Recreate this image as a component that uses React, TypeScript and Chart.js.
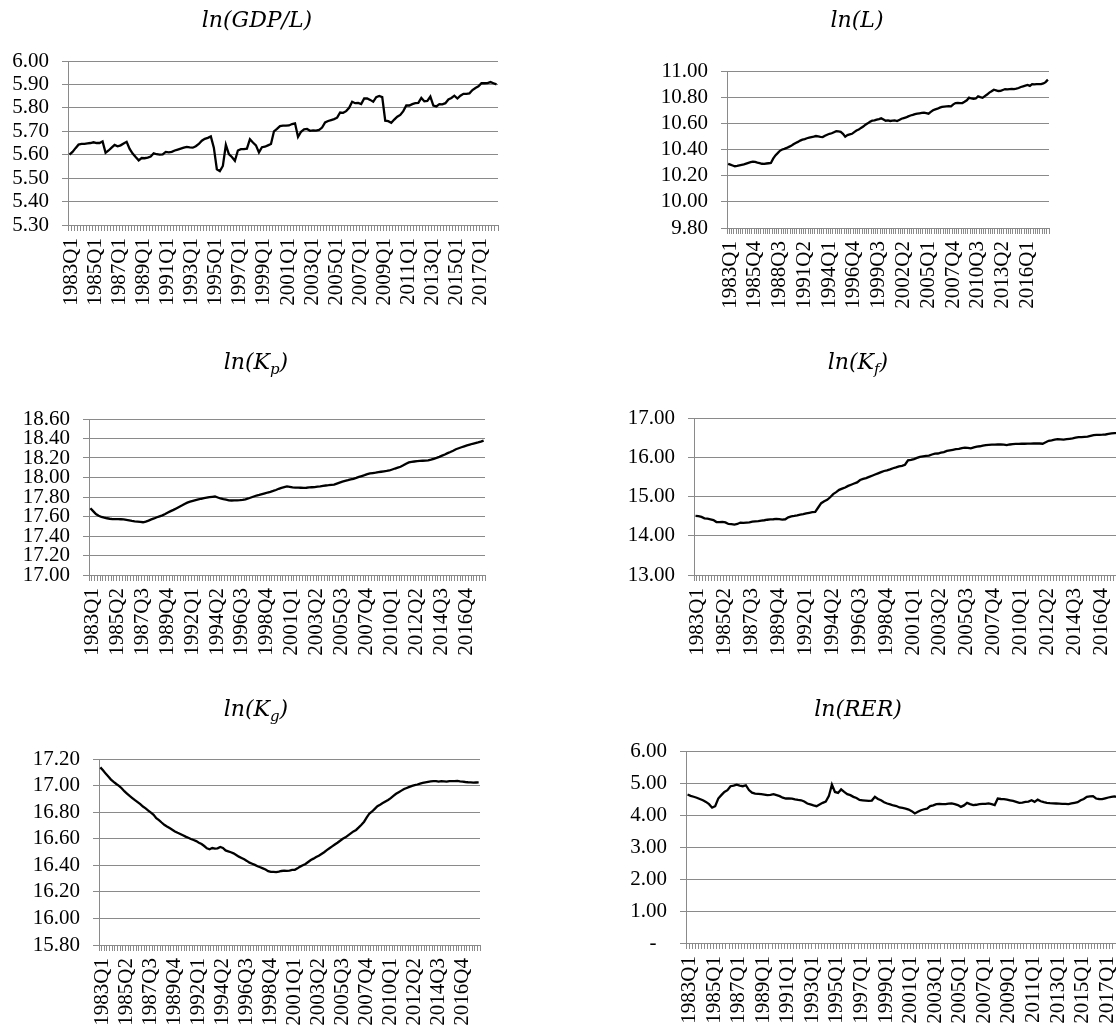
import React, { useEffect, useRef } from 'react';
import { Chart, registerables } from 'chart.js';

Chart.register(...registerables);

// ---------- data: quarterly, 1983Q1 .. 2018Q3 ----------
const FIRST_YEAR = 1983;
const N_QUARTERS = 143;
const quarterLabels: string[] = [];
for (let i = 0; i < N_QUARTERS; i++) {
  quarterLabels.push(`${FIRST_YEAR + Math.floor(i / 4)}Q${(i % 4) + 1}`);
}

const gdpPerWorker = [
  5.600, 5.612, 5.628, 5.643, 5.646, 5.646, 5.648, 5.650, 5.653, 5.650, 5.650,
  5.657, 5.608,
  5.618, 5.630, 5.642, 5.636, 5.640, 5.648, 5.655,
  5.625, 5.605, 5.590, 5.576, 5.586, 5.585, 5.588, 5.592,
  5.606, 5.602, 5.600, 5.601, 5.612, 5.610, 5.612, 5.618,
  5.622, 5.626, 5.630, 5.633, 5.631, 5.630, 5.636, 5.646, 5.660, 5.668, 5.672, 5.678,
  5.630, 5.538, 5.530, 5.552, 5.642, 5.603, 5.590, 5.574,
  5.618, 5.624, 5.624, 5.626, 5.666, 5.652, 5.640, 5.610, 5.632, 5.634, 5.640, 5.646,
  5.700, 5.710, 5.722, 5.724, 5.724, 5.725, 5.731, 5.734,
  5.676, 5.698, 5.708, 5.710, 5.702, 5.704, 5.703, 5.706, 5.716, 5.738,
  5.744, 5.748, 5.752, 5.758, 5.780, 5.779, 5.786, 5.800, 5.826, 5.820, 5.821, 5.816,
  5.840, 5.840, 5.834, 5.826, 5.846, 5.851, 5.846,
  5.745, 5.743, 5.736, 5.750, 5.762, 5.770, 5.786,
  5.810, 5.810, 5.816, 5.820, 5.821, 5.842, 5.828, 5.830, 5.848,
  5.810, 5.806, 5.816, 5.815, 5.820, 5.836, 5.842, 5.852, 5.840, 5.852, 5.860,
  5.860, 5.862, 5.876, 5.885, 5.892, 5.905, 5.905, 5.906, 5.910, 5.905, 5.900,
];

const labourForce = [
  10.290, 10.284, 10.278, 10.272, 10.274, 10.278, 10.282, 10.286, 10.292, 10.298, 10.303,
  10.307, 10.305, 10.300, 10.296, 10.291, 10.290, 10.293, 10.295, 10.297, 10.330,
  10.355, 10.372, 10.390, 10.400, 10.405, 10.412, 10.420, 10.428, 10.440, 10.450,
  10.458, 10.468, 10.475, 10.480, 10.486, 10.490, 10.494, 10.498, 10.503, 10.500,
  10.497, 10.495, 10.505, 10.513, 10.520, 10.524, 10.532, 10.540, 10.538, 10.535,
  10.520, 10.498, 10.510, 10.515, 10.520, 10.533, 10.545, 10.552, 10.565, 10.575,
  10.590, 10.600, 10.612, 10.620, 10.622, 10.628, 10.632, 10.638, 10.630, 10.620,
  10.622, 10.618, 10.620, 10.622, 10.617, 10.626, 10.635, 10.640, 10.645, 10.653,
  10.660, 10.664, 10.670, 10.674, 10.677, 10.680, 10.682, 10.678, 10.674, 10.688,
  10.700, 10.707, 10.712, 10.720, 10.725, 10.728, 10.730, 10.731, 10.730, 10.745,
  10.755, 10.756, 10.754, 10.755, 10.765, 10.776, 10.796, 10.790, 10.788, 10.790,
  10.806, 10.800, 10.795, 10.808, 10.820, 10.835, 10.845, 10.857, 10.852, 10.847,
  10.848, 10.855, 10.862, 10.860, 10.862, 10.864, 10.862, 10.865, 10.870, 10.878,
  10.883, 10.888, 10.893, 10.886, 10.900, 10.898, 10.900, 10.900, 10.900, 10.905, 10.915, 10.934,
];

const privateCapital = [
  17.685, 17.655, 17.625, 17.608, 17.595, 17.588, 17.582, 17.577, 17.574, 17.573,
  17.573, 17.572, 17.570, 17.565, 17.560, 17.555, 17.551, 17.548, 17.545, 17.541,
  17.548, 17.558, 17.570, 17.580, 17.592, 17.602, 17.612, 17.625, 17.640, 17.655,
  17.668, 17.683, 17.698, 17.712, 17.728, 17.742, 17.752, 17.760, 17.768, 17.775,
  17.782, 17.788, 17.793, 17.798, 17.802, 17.805, 17.795, 17.785, 17.778, 17.772,
  17.766, 17.764, 17.765, 17.766, 17.767, 17.770, 17.776, 17.785, 17.795, 17.805,
  17.815, 17.822, 17.830, 17.838, 17.846, 17.853, 17.862, 17.872, 17.884, 17.894,
  17.902, 17.908, 17.904, 17.898, 17.897, 17.896, 17.895, 17.894, 17.895, 17.898,
  17.900, 17.902, 17.906, 17.910, 17.915, 17.918, 17.921, 17.925, 17.928, 17.938,
  17.948, 17.958, 17.965, 17.972, 17.980, 17.987, 17.996, 18.006, 18.015, 18.024,
  18.034, 18.042, 18.046, 18.050, 18.055, 18.059, 18.063, 18.067, 18.072, 18.082,
  18.092, 18.101, 18.110, 18.125, 18.142, 18.155, 18.160, 18.164, 18.168, 18.170,
  18.172, 18.173, 18.175, 18.183, 18.192, 18.201, 18.212, 18.224, 18.236, 18.250,
  18.262, 18.275, 18.290, 18.300, 18.310, 18.320, 18.330, 18.338, 18.346, 18.353, 18.360, 18.368, 18.378,
];

const foreignCapital = [
  14.506, 14.500, 14.480, 14.445, 14.435, 14.420, 14.400, 14.350, 14.345, 14.355,
  14.340, 14.300, 14.295, 14.285, 14.300, 14.336, 14.330, 14.335, 14.340, 14.358,
  14.365, 14.372, 14.385, 14.395, 14.408, 14.415, 14.420, 14.428, 14.425, 14.413,
  14.420, 14.470, 14.495, 14.505, 14.520, 14.540, 14.550, 14.570, 14.585, 14.600,
  14.610, 14.720, 14.830, 14.880, 14.915, 14.980, 15.060, 15.110, 15.170, 15.200,
  15.230, 15.270, 15.300, 15.330, 15.360, 15.420, 15.450, 15.470, 15.500, 15.530,
  15.560, 15.590, 15.620, 15.650, 15.665, 15.690, 15.720, 15.740, 15.766, 15.780,
  15.809, 15.920, 15.935, 15.953, 15.985, 16.010, 16.025, 16.035, 16.040, 16.070,
  16.090, 16.095, 16.115, 16.130, 16.160, 16.175, 16.190, 16.205, 16.215, 16.235,
  16.243, 16.240, 16.226, 16.250, 16.270, 16.280, 16.295, 16.310, 16.315, 16.320,
  16.322, 16.325, 16.328, 16.320, 16.310, 16.325, 16.336, 16.340, 16.342, 16.345,
  16.344, 16.345, 16.346, 16.350, 16.353, 16.350, 16.345, 16.380, 16.420, 16.430,
  16.450, 16.464, 16.458, 16.447, 16.460, 16.470, 16.480, 16.500, 16.515, 16.515,
  16.520, 16.523, 16.545, 16.566, 16.568, 16.570, 16.574, 16.580, 16.595, 16.610, 16.615, 16.620, 16.630,
];

const publicCapital = [
  17.137, 17.115, 17.090, 17.068, 17.045, 17.028, 17.012, 16.998, 16.980, 16.958,
  16.940, 16.922, 16.906, 16.890, 16.875, 16.860, 16.842, 16.828, 16.812, 16.796,
  16.780, 16.755, 16.740, 16.722, 16.705, 16.692, 16.680, 16.668, 16.655, 16.645,
  16.636, 16.626, 16.616, 16.607, 16.598, 16.590, 16.582, 16.570, 16.560, 16.545,
  16.528, 16.520, 16.530, 16.525, 16.528, 16.538, 16.530, 16.512, 16.505, 16.498,
  16.490, 16.478, 16.465, 16.455, 16.445, 16.433, 16.420, 16.412, 16.403, 16.393,
  16.385, 16.377, 16.368, 16.356, 16.350, 16.350, 16.348, 16.352, 16.357, 16.360,
  16.358, 16.360, 16.365, 16.366, 16.377, 16.390, 16.400, 16.410, 16.425, 16.440,
  16.450, 16.462, 16.472, 16.485, 16.498, 16.514, 16.528, 16.542, 16.556, 16.570,
  16.585, 16.600, 16.610, 16.625, 16.640, 16.655, 16.666, 16.685, 16.705, 16.728,
  16.760, 16.790, 16.805, 16.825, 16.845, 16.856, 16.868, 16.880, 16.892, 16.905,
  16.922, 16.938, 16.950, 16.962, 16.974, 16.982, 16.990, 16.998, 17.003, 17.008,
  17.015, 17.020, 17.024, 17.028, 17.032, 17.034, 17.034, 17.030, 17.033, 17.032,
  17.030, 17.034, 17.033, 17.034, 17.036, 17.032, 17.030, 17.027, 17.025, 17.024, 17.022, 17.023, 17.024,
];

const realExchangeRate = [
  4.640, 4.600, 4.570, 4.540, 4.500, 4.460, 4.410, 4.340, 4.230, 4.276,
  4.515, 4.620, 4.720, 4.775, 4.900, 4.920, 4.950, 4.920, 4.900, 4.930,
  4.780, 4.700, 4.670, 4.660, 4.650, 4.640, 4.620, 4.630, 4.650, 4.620,
  4.590, 4.540, 4.515, 4.520, 4.515, 4.490, 4.470, 4.460, 4.420, 4.360,
  4.330, 4.300, 4.276, 4.330, 4.380, 4.420, 4.588, 4.950, 4.720, 4.690,
  4.800, 4.720, 4.650, 4.620, 4.567, 4.530, 4.470, 4.460, 4.450, 4.440,
  4.450, 4.567, 4.500, 4.460, 4.400, 4.360, 4.330, 4.297, 4.280, 4.235,
  4.220, 4.200, 4.170, 4.120, 4.050, 4.100, 4.150, 4.180, 4.200, 4.276,
  4.300, 4.340, 4.345, 4.340, 4.340, 4.355, 4.360, 4.340, 4.310, 4.255,
  4.300, 4.380, 4.340, 4.310, 4.320, 4.340, 4.345, 4.350, 4.360, 4.340,
  4.310, 4.515, 4.500, 4.494, 4.480, 4.460, 4.440, 4.410, 4.380, 4.390,
  4.410, 4.420, 4.460, 4.410, 4.480, 4.430, 4.400, 4.380, 4.370, 4.365,
  4.360, 4.355, 4.350, 4.345, 4.340, 4.360, 4.380, 4.400, 4.460, 4.500,
  4.567, 4.580, 4.588, 4.515, 4.500, 4.494, 4.520, 4.547, 4.567, 4.580, 4.560, 4.550, 4.570,
];

// ---------- panel layout ----------
type TitlePart = { text: string; sub?: boolean };
type Panel = {
  key: string;
  title: TitlePart[];
  data: number[];
  yMin: number;
  yMax: number;
  yStep: number;
  labelEvery: number;
  zeroLabel?: string;
  box: { x: number; y: number; w: number; h: number };
  plot: { l: number; t: number; r: number; b: number };
  titleAt: { x: number; y: number };
};

const panels: Panel[] = [
  {
    key: 'gdp', title: [{ text: 'ln(GDP/L)' }], data: gdpPerWorker,
    yMin: 5.3, yMax: 6.0, yStep: 0.1, labelEvery: 8,
    box: { x: 0, y: 0, w: 556, h: 330 }, plot: { l: 68, t: 61, r: 498, b: 225 },
    titleAt: { x: 257, y: 27 },
  },
  {
    key: 'lab', title: [{ text: 'ln(L)' }], data: labourForce,
    yMin: 9.8, yMax: 11.0, yStep: 0.2, labelEvery: 11,
    box: { x: 556, y: 0, w: 600, h: 330 }, plot: { l: 727, t: 71, r: 1049, b: 228 },
    titleAt: { x: 857, y: 27 },
  },
  {
    key: 'kp', title: [{ text: 'ln(K' }, { text: 'p', sub: true }, { text: ')' }], data: privateCapital,
    yMin: 17.0, yMax: 18.6, yStep: 0.2, labelEvery: 9,
    box: { x: 0, y: 330, w: 556, h: 350 }, plot: { l: 89, t: 419, r: 485, b: 575 },
    titleAt: { x: 256, y: 369 },
  },
  {
    key: 'kf', title: [{ text: 'ln(K' }, { text: 'f', sub: true }, { text: ')' }], data: foreignCapital,
    yMin: 13.0, yMax: 17.0, yStep: 1.0, labelEvery: 9,
    box: { x: 556, y: 330, w: 600, h: 350 }, plot: { l: 694, t: 418, r: 1122, b: 575 },
    titleAt: { x: 858, y: 369 },
  },
  {
    key: 'kg', title: [{ text: 'ln(K' }, { text: 'g', sub: true }, { text: ')' }], data: publicCapital,
    yMin: 15.8, yMax: 17.2, yStep: 0.2, labelEvery: 9,
    box: { x: 0, y: 680, w: 556, h: 347 }, plot: { l: 99, t: 759, r: 480, b: 945 },
    titleAt: { x: 256, y: 716 },
  },
  {
    key: 'rer', title: [{ text: 'ln(RER)' }], data: realExchangeRate,
    yMin: 0, yMax: 6.0, yStep: 1.0, labelEvery: 8, zeroLabel: '-  ',
    box: { x: 556, y: 680, w: 600, h: 347 }, plot: { l: 686, t: 751, r: 1126, b: 943 },
    titleAt: { x: 858, y: 716 },
  },
];

const GRID = '#8a8a8a';
const LABEL_FONT = '"Liberation Serif", "Times New Roman", serif';
const TITLE_FONT = '"DejaVu Serif", serif';

function makeTitlePlugin(p: Panel) {
  return {
    id: 'panelTitle_' + p.key,
    afterDraw(chart: any) {
      const ctx = chart.ctx as CanvasRenderingContext2D;
      ctx.save();
      ctx.fillStyle = '#000';
      ctx.textBaseline = 'alphabetic';
      ctx.textAlign = 'left';
      const fontFor = (part: TitlePart) => part.sub ? `italic 15px ${TITLE_FONT}` : `italic 22px ${TITLE_FONT}`;
      let total = 0;
      p.title.forEach((part) => { ctx.font = fontFor(part); total += ctx.measureText(part.text).width; });
      let x = p.titleAt.x - p.box.x - total / 2;
      const y = p.titleAt.y - p.box.y;
      p.title.forEach((part) => {
        ctx.font = fontFor(part);
        ctx.fillText(part.text, x, y + (part.sub ? 5 : 0));
        x += ctx.measureText(part.text).width;
      });
      ctx.restore();
    },
  };
}

function PanelChart({ p }: { p: Panel }) {
  const ref = useRef<HTMLCanvasElement | null>(null);
  useEffect(() => {
    if (!ref.current) return;
    const chart = new Chart(ref.current, {
      type: 'line',
      data: {
        labels: quarterLabels,
        datasets: [{
          data: p.data,
          borderColor: '#000000',
          borderWidth: 2.3,
          pointRadius: 0,
          tension: 0,
          fill: false,
        }],
      },
      options: {
        animation: false,
        responsive: false,
        events: [],
        layout: {
          padding: {
            top: p.plot.t - p.box.y,
            right: p.box.x + p.box.w - p.plot.r,
            left: 0,
            bottom: 0,
          },
        },
        plugins: { legend: { display: false }, tooltip: { enabled: false }, title: { display: false } },
        scales: {
          x: {
            type: 'category',
            offset: true,
            afterFit: (s: any) => { s.height = p.box.y + p.box.h - p.plot.b; },
            grid: { display: true, drawOnChartArea: false, drawTicks: true, tickLength: 6, offset: true, color: GRID, lineWidth: 1 },
            border: { display: true, color: GRID, width: 1 },
            ticks: {
              autoSkip: false,
              maxRotation: 90,
              minRotation: 90,
              padding: 7,
              labelOffset: 2,
              color: '#000',
              font: { family: LABEL_FONT, size: 21 },
              callback: (_v: any, i: number) => (i % p.labelEvery === 0 ? quarterLabels[i] : ''),
            },
          },
          y: {
            min: p.yMin,
            max: p.yMax,
            afterFit: (s: any) => { s.width = p.plot.l - p.box.x; },
            grid: { color: GRID, lineWidth: 1, drawTicks: true, tickLength: 6 },
            border: { display: true, color: GRID, width: 1 },
            ticks: {
              autoSkip: false,
              stepSize: p.yStep,
              padding: 13,
              color: '#000',
              font: { family: LABEL_FONT, size: 21 },
              callback: (v: any) => {
                const n = Number(v);
                if (p.zeroLabel && Math.abs(n) < 1e-9) return p.zeroLabel;
                return n.toFixed(2);
              },
            },
          },
        },
      },
      plugins: [makeTitlePlugin(p)],
    } as any);
    return () => chart.destroy();
  }, [p]);
  return (
    <canvas
      ref={ref}
      width={p.box.w}
      height={p.box.h}
      style={{ position: 'absolute', left: p.box.x, top: p.box.y, width: p.box.w, height: p.box.h }}
    />
  );
}

export default function App() {
  return (
    <div style={{ position: 'fixed', left: 0, top: 0, width: 1116, height: 1027, overflow: 'hidden', background: '#ffffff' }}>
      {panels.map((p) => <PanelChart key={p.key} p={p} />)}
    </div>
  );
}
